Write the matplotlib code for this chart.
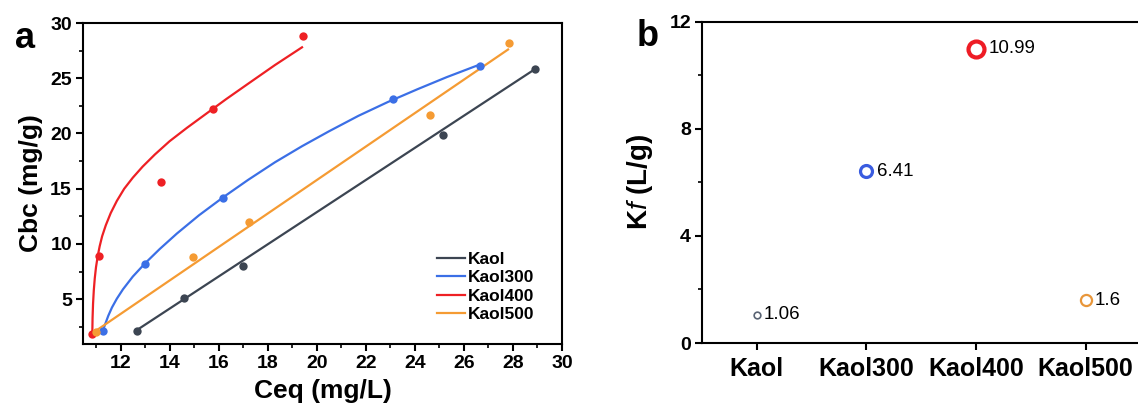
import numpy as np
import matplotlib
matplotlib.use("Agg")
import matplotlib.pyplot as plt
from matplotlib.ticker import MultipleLocator
from matplotlib.lines import Line2D

plt.rcParams['font.family'] = ['Liberation Sans', 'DejaVu Sans']
plt.rcParams['mathtext.fontset'] = 'custom'
plt.rcParams['mathtext.rm'] = 'Liberation Sans'
plt.rcParams['mathtext.it'] = 'Liberation Sans:italic'
plt.rcParams['mathtext.bf'] = 'Liberation Sans:bold'

# ---- panel a: measured points (Ceq, Cbc) ----
kaol_x = [12.66, 14.59, 17.0, 25.15, 28.9]
kaol_y = [2.1, 5.1, 8.0, 19.9, 25.8]
k300_x = [11.27, 13.0, 16.18, 23.1, 26.65]
k300_y = [2.1, 8.2, 14.2, 23.1, 26.1]
k400_x = [10.85, 11.13, 13.64, 15.78, 19.45]
k400_y = [1.9, 8.9, 15.6, 22.2, 28.8]
k500_x = [11.0, 14.97, 17.22, 24.6, 27.85]
k500_y = [2.0, 8.8, 12.0, 21.7, 28.2]

# fitted lines
kaol_fit_x = [12.66, 28.88]
kaol_fit_y = [2.2, 25.8]
k500_fit_x = [10.9, 27.8]
k500_fit_y = [2.0, 27.6]
k300_fit_x = [11.25, 11.32, 11.4, 11.5, 11.65, 11.85, 12.1, 12.5, 13.0, 13.6, 14.3,
              15.2, 16.2, 17.2, 18.3, 19.4, 20.5, 21.7, 22.9, 24.1, 25.3, 26.6]
k300_fit_y = [1.9, 2.4, 2.9, 3.5, 4.25, 5.05, 5.9, 7.05, 8.25, 9.55, 10.95,
              12.6, 14.25, 15.8, 17.4, 18.85, 20.2, 21.6, 22.85, 24.0, 25.1, 26.2]
k400_fit_x = [10.85, 10.86, 10.88, 10.91, 10.95, 11.0, 11.07, 11.15, 11.25, 11.4, 11.6, 11.85,
              12.15, 12.5, 12.9, 13.4, 14.0, 14.7, 15.5, 16.3, 17.2, 18.3, 19.4]
k400_fit_y = [2.0, 3.3, 4.6, 5.8, 6.9, 7.9, 8.9, 9.8, 10.7, 11.7, 12.8, 13.9,
              15.0, 16.0, 17.0, 18.1, 19.3, 20.5, 21.8, 23.1, 24.5, 26.2, 27.8]

# ---- panel b: Freundlich Kf ----
samples = ['Kaol', 'Kaol300', 'Kaol400', 'Kaol500']
kf = [1.06, 6.41, 10.99, 1.6]
kf_labels = ['1.06', '6.41', '10.99', '1.6']

c_kaol = '#3c4552'
c_300 = '#3b6fe6'
c_400 = '#ee2024'
c_500 = '#f59b33'

W, H = 1138, 416
fig = plt.figure(figsize=(W / 100, H / 100), dpi=100)

def px_axes(left, right, top, bottom):
    return fig.add_axes([left / W, (H - bottom) / H, (right - left) / W, (bottom - top) / H])

ax1 = px_axes(83, 562, 23, 344)
ax2 = px_axes(702, 1140.4, 21.7, 343)

for ax in (ax1, ax2):
    for s in ax.spines.values():
        s.set_linewidth(1.5)

# panel a
series = [(kaol_x, kaol_y, kaol_fit_x, kaol_fit_y, c_kaol, 'Kaol'),
          (k300_x, k300_y, k300_fit_x, k300_fit_y, c_300, 'Kaol300'),
          (k400_x, k400_y, k400_fit_x, k400_fit_y, c_400, 'Kaol400'),
          (k500_x, k500_y, k500_fit_x, k500_fit_y, c_500, 'Kaol500')]
handles = []
for px, py, fx, fy, col, name in series:
    ax1.plot(fx, fy, color=col, lw=1.6, zorder=2, solid_joinstyle='round')
    ax1.plot(px, py, 'o', color=col, ms=6, mec='none', zorder=3)
    handles.append(Line2D([0], [0], color=col, lw=1.6, label=name))

ax1.set_xlim(10.47, 30)
ax1.set_ylim(0.95, 30)
ax1.xaxis.set_minor_locator(MultipleLocator(1))
ax1.yaxis.set_minor_locator(MultipleLocator(2.5))
ax1.set_xticks(np.arange(12, 31, 2))
ax1.set_yticks(np.arange(5, 31, 5))
ax1.tick_params(which='major', direction='out', length=5, width=1.5, labelsize=14, pad=3)
ax1.tick_params(which='minor', direction='out', length=3, width=1.2)
for lab in ax1.get_xticklabels() + ax1.get_yticklabels():
    lab.set_fontweight('bold')
ax1.set_xlabel('Ceq (mg/L)', fontsize=19, fontweight='bold', labelpad=5)
ax1.set_ylabel('Cbc (mg/g)', fontsize=19, fontweight='bold', labelpad=5)
ax1.legend(handles=handles, loc='lower right', bbox_to_anchor=(0.96, 0.04),
           frameon=False, prop={'weight': 'bold', 'size': 12.5},
           handlelength=1.6, handletextpad=0.15, labelspacing=0.2, borderpad=0)

# panel b
xpos = np.arange(len(samples))
cols_b = ['#5a6474', '#3a5ce0', '#ee1c25', '#e8963a']
sizes = [4.8, 8.6, 11.5, 8.0]
edges = [1.2, 2.3, 3.0, 1.6]
for i in range(len(samples)):
    ax2.plot(xpos[i], kf[i], 'o', mfc='none', mec=cols_b[i], ms=sizes[i], mew=edges[i])
    off = (sizes[i] + edges[i]) / 2 + 2.0
    ax2.annotate(kf_labels[i], (xpos[i], kf[i]), xytext=(off, 0), textcoords='offset points',
                 va='center', ha='left', fontsize=13.5)

ax2.set_xlim(-0.5, 3.5)
ax2.set_ylim(0, 12)
ax2.set_xticks(xpos)
ax2.set_xticklabels(samples)
ax2.set_yticks([0, 4, 8, 12])
ax2.yaxis.set_minor_locator(MultipleLocator(2))
ax2.tick_params(axis='x', which='major', direction='out', length=5, width=1.5, labelsize=18, pad=5)
ax2.tick_params(axis='y', which='major', direction='out', length=5, width=1.5, labelsize=14, pad=3)
ax2.tick_params(axis='y', which='minor', direction='out', length=3, width=1.2)
for lab in ax2.get_xticklabels() + ax2.get_yticklabels():
    lab.set_fontweight('bold')
ax2.set_ylabel(r'K$\mathit{f}$ (L/g)', fontsize=20, fontweight='bold', labelpad=10)

fig.text(15 / W, 1 - 48 / H, 'a', fontsize=26, fontweight='bold', ha='left', va='baseline')
fig.text(637 / W, 1 - 46 / H, 'b', fontsize=26, fontweight='bold', ha='left', va='baseline')

fig.savefig('out.png', dpi=100)
